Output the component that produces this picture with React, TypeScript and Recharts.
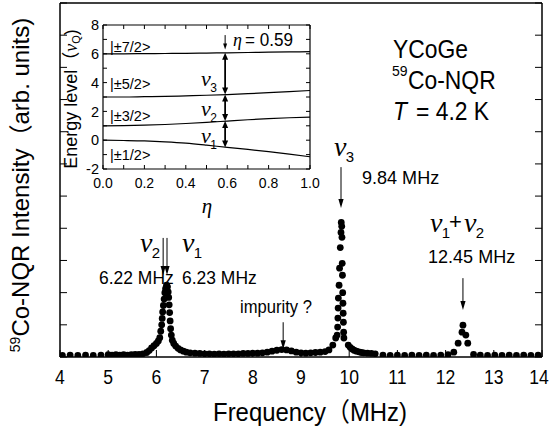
import React from 'react';
import { ScatterChart, Scatter, XAxis, YAxis, ReferenceLine, LineChart, Line } from 'recharts';

const SANS = '"Liberation Sans", Arial, Helvetica, "Noto Sans CJK JP", sans-serif';
const SERIF = '"Liberation Serif", "Times New Roman", "DejaVu Serif", serif';

// ---- main spectrum (frequency in MHz, intensity in arb. units) ----
const freqMHz = [
  4.05, 4.21, 4.37, 4.53, 4.69, 4.85, 5.0,
  5.08, 5.16, 5.24, 5.32, 5.40, 5.48, 5.56, 5.64, 5.72,
  5.80, 5.85, 5.90, 5.95, 6.00, 6.04, 6.07, 6.09, 6.11, 6.12, 6.13, 6.145, 6.16, 6.175, 6.19, 6.21,
  6.23, 6.245, 6.255, 6.265, 6.275, 6.285, 6.295, 6.31, 6.33, 6.36, 6.40, 6.45, 6.50, 6.56, 6.62, 6.70,
  6.8, 6.9, 7.0, 7.1, 7.2, 7.3, 7.4, 7.5, 7.6, 7.7, 7.8, 7.9, 8.0, 8.1, 8.2, 8.3, 8.4, 8.5, 8.6, 8.7,
  8.8, 8.9, 9.0, 9.1, 9.2, 9.3, 9.4, 9.5, 9.58,
  9.66, 9.72, 9.75, 9.76, 9.765, 9.77, 9.775, 9.79, 9.80, 9.815, 9.83, 9.835,
  9.845, 9.85, 9.855, 9.86, 9.865, 9.87, 9.875, 9.88, 9.885, 9.89, 9.98,
  10.02, 10.06, 10.10, 10.15, 10.20, 10.25, 10.30, 10.38, 10.46, 10.54,
  10.70, 10.85, 11.00, 11.15, 11.30, 11.45, 11.60, 11.75, 11.90, 12.05,
  12.17, 12.26, 12.34, 12.36, 12.42, 12.46,
  12.58, 12.72, 12.87, 13.02, 13.17, 13.32, 13.47, 13.62, 13.77, 13.92,
];
const intensity = [
  0.05, 0.06, 0.05, 0.06, 0.05, 0.06, 0.07,
  0.06, 0.07, 0.06, 0.07, 0.06, 0.07, 0.08, 0.08, 0.10,
  0.14, 0.20, 0.28, 0.35, 0.42, 0.50, 0.60, 0.80, 1.00, 1.20, 1.40, 1.60, 1.80, 2.00, 2.12, 2.23,
  2.18, 2.02, 1.85, 1.62, 1.38, 1.12, 0.88, 0.68, 0.52, 0.42, 0.34, 0.27, 0.22, 0.18, 0.15, 0.13,
  0.12, 0.11, 0.10, 0.10, 0.09, 0.10, 0.09, 0.10, 0.10, 0.10, 0.11, 0.11, 0.12, 0.12, 0.13, 0.15, 0.18, 0.21, 0.23, 0.22,
  0.19, 0.15, 0.13, 0.12, 0.13, 0.14, 0.15, 0.17, 0.22,
  0.37, 0.59, 0.68, 0.93, 1.21, 1.52, 1.83, 2.23, 2.76, 3.40, 3.87, 4.18,
  4.06, 3.72, 2.91, 2.54, 2.00, 1.67, 1.36, 1.08, 0.77, 0.59, 0.37,
  0.30, 0.25, 0.21, 0.18, 0.16, 0.14, 0.13, 0.12, 0.11, 0.10,
  0.06, 0.05, 0.06, 0.05, 0.06, 0.05, 0.06, 0.05, 0.06, 0.07,
  0.15, 0.43, 0.77, 0.99, 0.68, 0.43,
  0.08, 0.06, 0.05, 0.06, 0.05, 0.06, 0.05, 0.06, 0.05, 0.06,
];
const spectrum = freqMHz.map((f, i) => ({ f, v: intensity[i] }));

const freqTicks = [4, 5, 6, 7, 8, 9, 10, 11, 12, 13, 14];
const intensityTicks = [0, 1, 2, 3, 4, 5, 6, 7, 8, 9, 10, 11];

// annotation arrows in the main panel: [freq, from-intensity, to-intensity]
const arrowFreq = [9.83, 6.14, 6.22, 8.63, 12.36];
const arrowFrom = [5.9, 3.7, 3.7, 1.08, 2.45];
const arrowTo = [4.63, 2.55, 2.55, 0.24, 1.46];

// ---- inset: energy levels vs asymmetry parameter eta ----
const eta = [0, 0.1, 0.2, 0.3, 0.4, 0.5, 0.6, 0.7, 0.8, 0.9, 1.0];
const levelHalf = [0, -0.02, -0.05, -0.11, -0.2, -0.34, -0.5, -0.64, -0.8, -0.97, -1.15];
const levelThreeHalf = [1.0, 1.01, 1.04, 1.09, 1.16, 1.24, 1.33, 1.42, 1.5, 1.56, 1.6];
const levelFiveHalf = [3.0, 3.0, 3.02, 3.04, 3.08, 3.12, 3.17, 3.23, 3.3, 3.38, 3.45];
const levelSevenHalf = [6.0, 6.0, 6.01, 6.02, 6.03, 6.05, 6.07, 6.09, 6.11, 6.13, 6.15];
const levels = eta.map((e, i) => ({
  e,
  a: levelHalf[i],
  b: levelThreeHalf[i],
  c: levelFiveHalf[i],
  d: levelSevenHalf[i],
}));
const etaTicks = [0, 0.1, 0.2, 0.3, 0.4, 0.5, 0.6, 0.7, 0.8, 0.9, 1.0];
const energyTicks = [-2, -1, 0, 1, 2, 3, 4, 5, 6, 7, 8];
const etaMark = 0.59;
const levelsAtMark = [6.07, 3.17, 1.33, -0.51];
const markArrowFrom = 7.3;
const markArrowTo = 6.3;

const makeArrow = (double: boolean, head: number, half: number, width: number) => (props: any) => {
  const { x1, y1, x2, y2 } = props;
  const dir = Math.sign(y2 - y1) || 1;
  return (
    <g>
      <line
        x1={x1}
        y1={double ? y1 + dir * head * 0.6 : y1}
        x2={x2}
        y2={y2 - dir * head * 0.6}
        stroke="#000"
        strokeWidth={width}
      />
      <polygon points={`${x2},${y2} ${x2 - half},${y2 - dir * head} ${x2 + half},${y2 - dir * head}`} fill="#000" />
      {double && (
        <polygon points={`${x1},${y1} ${x1 - half},${y1 + dir * head} ${x1 + half},${y1 + dir * head}`} fill="#000" />
      )}
    </g>
  );
};

const dotShape = (p: any) => <circle cx={p.cx} cy={p.cy} r={3.4} fill="#000" />;
const noTick = () => <g />;

const MainXTick = (p: any) => {
  // keep the last label inside the 550px picture
  const x = Math.min(p.x, 539);
  return (
    <text
      transform={`translate(${x},${p.y}) scale(0.9,1)`}
      textAnchor="middle"
      fontFamily={SANS}
      fontSize={19.5}
      fill="#000"
    >
      {p.payload.value}
    </text>
  );
};

const InsetXTick = (p: any) => {
  const v = p.payload.value;
  const show = Math.round(v * 10) % 2 === 0;
  if (!show) return <g />;
  return (
    <text x={p.x} y={p.y} textAnchor="middle" fontFamily={SANS} fontSize={14} fill="#000">
      {v.toFixed(1)}
    </text>
  );
};

const InsetYTick = (p: any) => {
  const v = p.payload.value;
  if (v % 2 !== 0) return <g />;
  return (
    <text x={p.x} y={p.y} dy="0.36em" textAnchor="end" fontFamily={SANS} fontSize={14.5} fill="#000">
      {v}
    </text>
  );
};

const T = ({ x, y, size, children, anchor = 'start', sx = 0.9, italic = false, serif = false }: any) => (
  <text
    transform={`translate(${x},${y}) scale(${sx},1)`}
    fontSize={size}
    fontFamily={serif ? SERIF : SANS}
    fontStyle={italic ? 'italic' : 'normal'}
    textAnchor={anchor}
    fill="#000"
  >
    {children}
  </text>
);

const Nu = ({ x, y, sub, size = 28, subSize = 15 }: any) => (
  <g>
    <T x={x} y={y} size={size} serif italic sx={1}>ν</T>
    <T x={x + size * 0.42} y={y + 6} size={subSize} sx={1}>{sub}</T>
  </g>
);

export default function App() {
  const axisLine = { stroke: '#000', strokeWidth: 1.5 };
  const tickLine = { stroke: '#000', strokeWidth: 1 };
  const insetAxisLine = { stroke: '#000', strokeWidth: 1.2 };
  return (
    <div style={{ position: 'absolute', left: 0, top: 0, width: 550, height: 428, background: '#fff' }}>
      <ScatterChart width={550} height={428} margin={{ top: 2, right: 7, bottom: 70, left: 59 }}>
        <XAxis
          xAxisId="b"
          dataKey="f"
          type="number"
          orientation="bottom"
          domain={[4, 14]}
          ticks={freqTicks}
          interval={0}
          allowDataOverflow
          height={1}
          tickSize={-7}
          tickMargin={34}
          tick={MainXTick}
          axisLine={axisLine}
          tickLine={tickLine}
        />
        <XAxis
          xAxisId="t"
          type="number"
          orientation="top"
          domain={[4, 14]}
          ticks={freqTicks}
          interval={0}
          allowDataOverflow
          height={1}
          tickSize={-7}
          tick={noTick}
          axisLine={axisLine}
          tickLine={tickLine}
        />
        <YAxis
          yAxisId="l"
          dataKey="v"
          type="number"
          domain={[0, 11]}
          ticks={intensityTicks}
          interval={0}
          allowDataOverflow
          width={1}
          tickSize={-7}
          tick={noTick}
          axisLine={axisLine}
          tickLine={tickLine}
        />
        <YAxis
          yAxisId="r"
          orientation="right"
          type="number"
          domain={[0, 11]}
          ticks={intensityTicks}
          interval={0}
          allowDataOverflow
          width={1}
          tickSize={-7}
          tick={noTick}
          axisLine={axisLine}
          tickLine={tickLine}
        />
        <Scatter xAxisId="b" yAxisId="l" data={spectrum} shape={dotShape} isAnimationActive={false} />
        {arrowFreq.map((f, i) => (
          <ReferenceLine
            key={i}
            xAxisId="b"
            yAxisId="l"
            segment={[
              { x: f, y: arrowFrom[i] },
              { x: f, y: arrowTo[i] },
            ]}
            shape={makeArrow(false, 9, 2.6, 1)}
          />
        ))}
      </ScatterChart>

      <div style={{ position: 'absolute', left: 60, top: 10 }}>
        <LineChart width={260} height={200} data={levels} margin={{ top: 14, right: 9, bottom: 40, left: 42 }}>
          <XAxis
            xAxisId="b"
            dataKey="e"
            type="number"
            domain={[0, 1]}
            ticks={etaTicks}
            interval={0}
            allowDataOverflow
            height={1}
            tickSize={-4}
            tickMargin={23}
            tick={InsetXTick}
            axisLine={insetAxisLine}
            tickLine={tickLine}
          />
          <XAxis
            xAxisId="t"
            dataKey="e"
            orientation="top"
            type="number"
            domain={[0, 1]}
            ticks={etaTicks}
            interval={0}
            allowDataOverflow
            height={1}
            tickSize={-4}
            tick={noTick}
            axisLine={insetAxisLine}
            tickLine={tickLine}
          />
          <YAxis
            yAxisId="l"
            type="number"
            domain={[-2, 8]}
            ticks={energyTicks}
            interval={0}
            allowDataOverflow
            width={1}
            tickSize={-4}
            tickMargin={8}
            tick={InsetYTick}
            axisLine={insetAxisLine}
            tickLine={tickLine}
          />
          <YAxis
            yAxisId="r"
            orientation="right"
            type="number"
            domain={[-2, 8]}
            ticks={energyTicks}
            interval={0}
            allowDataOverflow
            width={1}
            tickSize={-4}
            tick={noTick}
            axisLine={insetAxisLine}
            tickLine={tickLine}
          />
          {['a', 'b', 'c', 'd'].map((k) => (
            <Line
              key={k}
              xAxisId="b"
              yAxisId="l"
              dataKey={k}
              type="monotone"
              stroke="#000"
              strokeWidth={1.2}
              dot={false}
              isAnimationActive={false}
            />
          ))}
          {levelsAtMark.slice(0, 3).map((lv, i) => (
            <ReferenceLine
              key={i}
              xAxisId="b"
              yAxisId="l"
              segment={[
                { x: etaMark, y: lv },
                { x: etaMark, y: levelsAtMark[i + 1] },
              ]}
              shape={makeArrow(true, 7, 3, 1.8)}
            />
          ))}
          <ReferenceLine
            xAxisId="b"
            yAxisId="l"
            segment={[
              { x: etaMark, y: markArrowFrom },
              { x: etaMark, y: markArrowTo },
            ]}
            shape={makeArrow(false, 6, 2, 1)}
          />
        </LineChart>
      </div>

      <svg
        width={550}
        height={428}
        style={{ position: 'absolute', left: 0, top: 0, pointerEvents: 'none' }}
      >
        {/* axis titles */}
        <T x={310} y={421} size={26} anchor="middle" sx={0.92}>Frequency（MHz)</T>
        <text transform="translate(29,185) rotate(-90)" textAnchor="middle" fontFamily={SANS} fill="#000">
          <tspan fontSize={14} dy={-9}>59</tspan>
          <tspan fontSize={24} dy={9}>Co-NQR Intensity（arb. units)</tspan>
        </text>

        {/* sample info */}
        <T x={393} y={58} size={26} sx={0.88}>YCoGe</T>
        <T x={392} y={76} size={14} sx={1}>59</T>
        <T x={408} y={89} size={26} sx={0.88}>Co-NQR</T>
        <T x={393} y={120} size={26} sx={0.88} italic>T</T>
        <T x={416} y={120} size={26} sx={0.88}>= 4.2 K</T>

        {/* peak annotations */}
        <Nu x={140} y={252} sub="2" />
        <T x={362} y={184} size={19} sx={0.95}>9.84 MHz</T>
        <Nu x={334} y={156} sub="3" />

        <Nu x={182} y={252} sub="1" />
        <T x={99} y={284} size={19} sx={0.92}>6.22 MHz</T>
        <T x={182} y={284} size={19} sx={0.92}>6.23 MHz</T>

        <T x={240} y={313} size={17.5} sx={0.95}>impurity ?</T>

        <Nu x={430} y={232} sub="1" />
        <T x={449} y={229} size={22} sx={1}>+</T>
        <Nu x={464} y={232} sub="2" />
        <T x={428} y={263} size={19} sx={0.95}>12.45 MHz</T>

        {/* inset texts */}
        <text transform="translate(77,99) rotate(-90)" textAnchor="middle" fontFamily={SANS} fontSize={18} fill="#000">
          <tspan>Energy level（</tspan>
          <tspan fontFamily={SERIF} fontStyle="italic">ν</tspan>
          <tspan fontSize={11} dy={3}>Q</tspan>
          <tspan dy={-3}>)</tspan>
        </text>
        <T x={207} y={213} size={21} serif italic sx={1} anchor="middle">η</T>

        <T x={110} y={52} size={14.5} sx={1}>|±7/2&gt;</T>
        <T x={110} y={89} size={14.5} sx={1}>|±5/2&gt;</T>
        <T x={110} y={121} size={14.5} sx={1}>|±3/2&gt;</T>
        <T x={110} y={160} size={14.5} sx={1}>|±1/2&gt;</T>

        <T x={233} y={46} size={18} serif italic sx={1}>η</T>
        <T x={245} y={46} size={18} sx={0.95}>= 0.59</T>

        <Nu x={201} y={86} sub="3" size={22} subSize={12} />
        <Nu x={201} y={116} sub="2" size={22} subSize={12} />
        <Nu x={201} y={143} sub="1" size={22} subSize={12} />
      </svg>
    </div>
  );
}
